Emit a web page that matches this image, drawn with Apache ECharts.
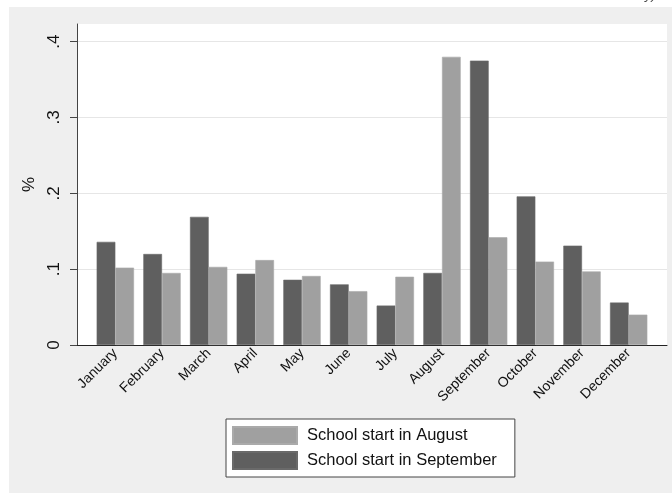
<!DOCTYPE html>
<html>
<head>
<meta charset="utf-8">
<script src="https://cdn.jsdelivr.net/npm/echarts@6/dist/echarts.min.js"></script>
<style>
  html, body { margin: 0; padding: 0; background: #ffffff; }
  #chart {
    width: 672px; height: 493px;
    background-color: #ffffff;
    background-image: linear-gradient(#efefef, #efefef);
    background-repeat: no-repeat;
    background-position: 9px 7px;
    background-size: 663px 486px;
  }
</style>
</head>
<body>
<div id="chart"></div>
<script>
const months = ['January','February','March','April','May','June','July','August','September','October','November','December'];
const septStart = [0.136, 0.120, 0.169, 0.094, 0.086, 0.080, 0.052, 0.095, 0.375, 0.196, 0.131, 0.056];
const augStart  = [0.102, 0.095, 0.103, 0.112, 0.091, 0.071, 0.090, 0.380, 0.142, 0.110, 0.097, 0.040];
const yTicks = [0, 0.1, 0.2, 0.3, 0.4];
const yTickLabels = ['0', '.1', '.2', '.3', '.4'];
const yMax = 0.4233;
const seriesNames = ['School start in August', 'School start in September'];

const FONT = '"Liberation Sans", Arial, Helvetica, sans-serif';
const chart = echarts.init(document.getElementById('chart'), null, { renderer: 'canvas' });

chart.setOption({
  backgroundColor: 'transparent',
  animation: false,
  textStyle: { fontFamily: FONT },
  grid: [
    { left: 77, right: 5, top: 24, bottom: 148, show: true, backgroundColor: '#ffffff', borderWidth: 0 },
    { left: 92, width: 560, top: 24, bottom: 148 }
  ],
  xAxis: [
    { gridIndex: 0, type: 'value', min: 0, max: 1,
      axisLine: { show: true, lineStyle: { color: '#222', width: 1 } },
      axisTick: { show: false }, axisLabel: { show: false }, splitLine: { show: false } },
    { gridIndex: 1, type: 'category', data: months,
      axisLine: { show: false }, axisTick: { show: false },
      axisLabel: { rotate: 45, fontSize: 14, color: '#111', margin: 6, interval: 0, fontFamily: FONT } }
  ],
  yAxis: [
    { gridIndex: 0, type: 'value', min: 0, max: yMax,
      name: '%', nameLocation: 'middle', nameGap: 34, nameRotate: 90,
      nameTextStyle: { fontSize: 17, color: '#111', fontFamily: FONT },
      axisLine: { show: true, lineStyle: { color: '#444', width: 1 } },
      axisTick: { show: true, length: 7, customValues: yTicks, lineStyle: { color: '#444' } },
      axisLabel: { show: true, customValues: yTicks, rotate: 90, fontSize: 17, color: '#111', margin: 14,
        formatter: function (v) { const i = yTicks.findIndex(t => Math.abs(t - v) < 1e-9); return i >= 0 ? yTickLabels[i] : ''; } },
      splitLine: { show: true, lineStyle: { color: '#e6e6e6', width: 1 } } },
    { gridIndex: 1, type: 'value', min: 0, max: yMax, show: false, splitLine: { show: false } }
  ],
  legend: {
    data: seriesNames,
    orient: 'vertical',
    left: 226, top: 419,
    icon: 'rect',
    itemWidth: 64, itemHeight: 17, itemGap: 6,
    padding: [7, 18, 7, 6],
    backgroundColor: '#ffffff',
    borderColor: '#444', borderWidth: 1,
    textStyle: { fontSize: 16.5, color: '#111', fontFamily: FONT, padding: [0, 0, 0, 5] }
  },
  series: [
    { name: seriesNames[1], type: 'bar', xAxisIndex: 1, yAxisIndex: 1, data: septStart,
      barGap: '0%', barCategoryGap: '20%',
      itemStyle: { color: '#5f5f5f', borderColor: '#6a6a6a', borderWidth: 0.6 } },
    { name: seriesNames[0], type: 'bar', xAxisIndex: 1, yAxisIndex: 1, data: augStart,
      barGap: '0%', barCategoryGap: '20%',
      itemStyle: { color: '#a0a0a0', borderColor: '#aaaaaa', borderWidth: 0.6 } }
  ],
  graphic: [
    { type: 'text', left: 645, top: -11, silent: true,
      style: { text: 'y)', fontSize: 13, fontStyle: 'italic', fill: '#444', fontFamily: FONT } }
  ]
});
</script>
</body>
</html>
